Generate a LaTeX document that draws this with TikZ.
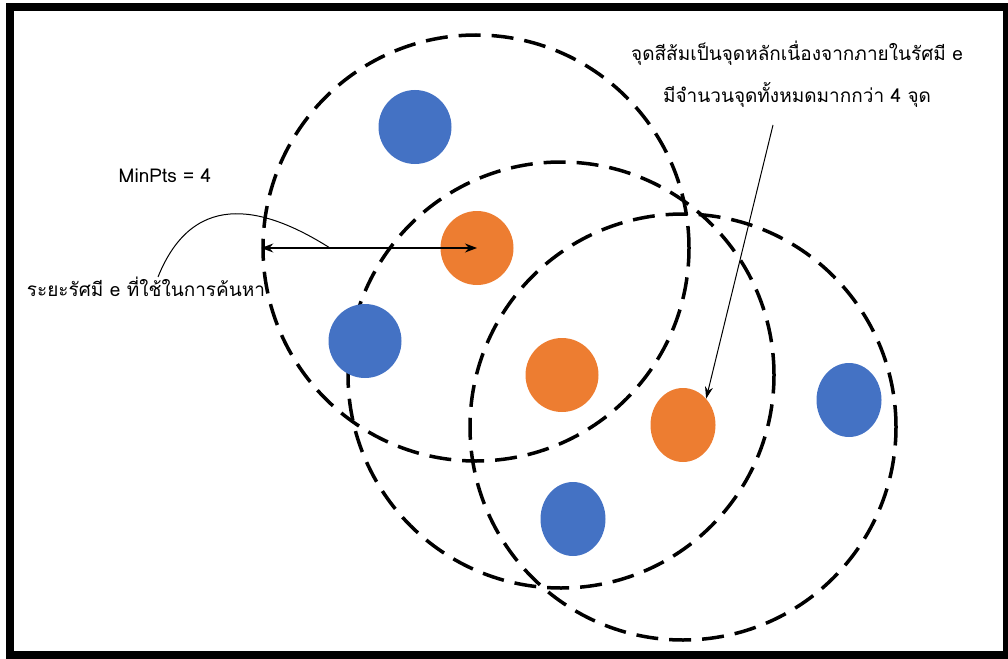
\documentclass[tikz,border=0pt]{standalone}
\usepackage{fontspec}
\setmainfont[Script=Thai]{Loma}
\usetikzlibrary{arrows.meta,shapes.geometric}
\definecolor{ptblue}{HTML}{4472C4}
\definecolor{ptorange}{HTML}{ED7D31}

\begin{document}
\begin{tikzpicture}
[x=1pt,y=-1pt,inner sep=0pt,
reach/.style={circle,draw=black,line width=3.5pt,dash pattern=on 22pt off 11pt,minimum size=426pt},
core/.style={ellipse,fill=ptorange,minimum width=#1,minimum height=74pt},
core/.default=73pt,
noise/.style={ellipse,fill=ptblue,minimum width=#1,minimum height=74pt},
noise/.default=73pt,
caption/.style={font=\fontsize{19}{42}\selectfont,align=center},
pre/.style={<->,>={Stealth[length=12pt,width=9pt]},line width=1.3pt},
post/.style={->,>={Stealth[length=12pt,width=8pt]},line width=1pt},
callout/.style={line width=1pt}]
\useasboundingbox (0,0) rectangle (1008,658);
\draw[line width=8pt] (10,7) rectangle (1007,655);
% eps neighbourhoods
\node[reach] (reach1) at (476,248) {};
\node[reach] (reach2) at (561,375) {};
\node[reach] (reach3) at (683,427) {};
% points
\node[noise] (blue1) at (415,127) {};
\node[noise] (blue2) at (365,341) {};
\node[noise=65pt] (blue3) at (849,400) {};
\node[noise=65pt] (blue4) at (573,519) {};
\node[core] (core1) at (477,248) {};
\node[core] (core2) at (562,375) {};
\node[core=65pt] (core3) at (683,425) {};
% labels
\node[caption] (minpts) at (165,176) {MinPts = 4};
\node[caption] (radius) at (146,287) {ระยะรัศมี e ที่ใช้ในการค้นหา};
\node[caption] (note) at (797,74) {จุดสีส้มเป็นจุดหลักเนื่องจากภายในรัศมี e\\มีจำนวนจุดทั้งหมดมากกว่า 4 จุด};
\coordinate (meet) at (330,248);
\coordinate (tail) at (773,125);
\draw[pre] (reach1.west) -- (core1.center);
\draw[callout] ([xshift=12pt]radius.north) .. controls (195,185) and (270,210) .. (meet);
\draw[post] (tail) -- (core3.north east);
\end{tikzpicture}
\end{document}
